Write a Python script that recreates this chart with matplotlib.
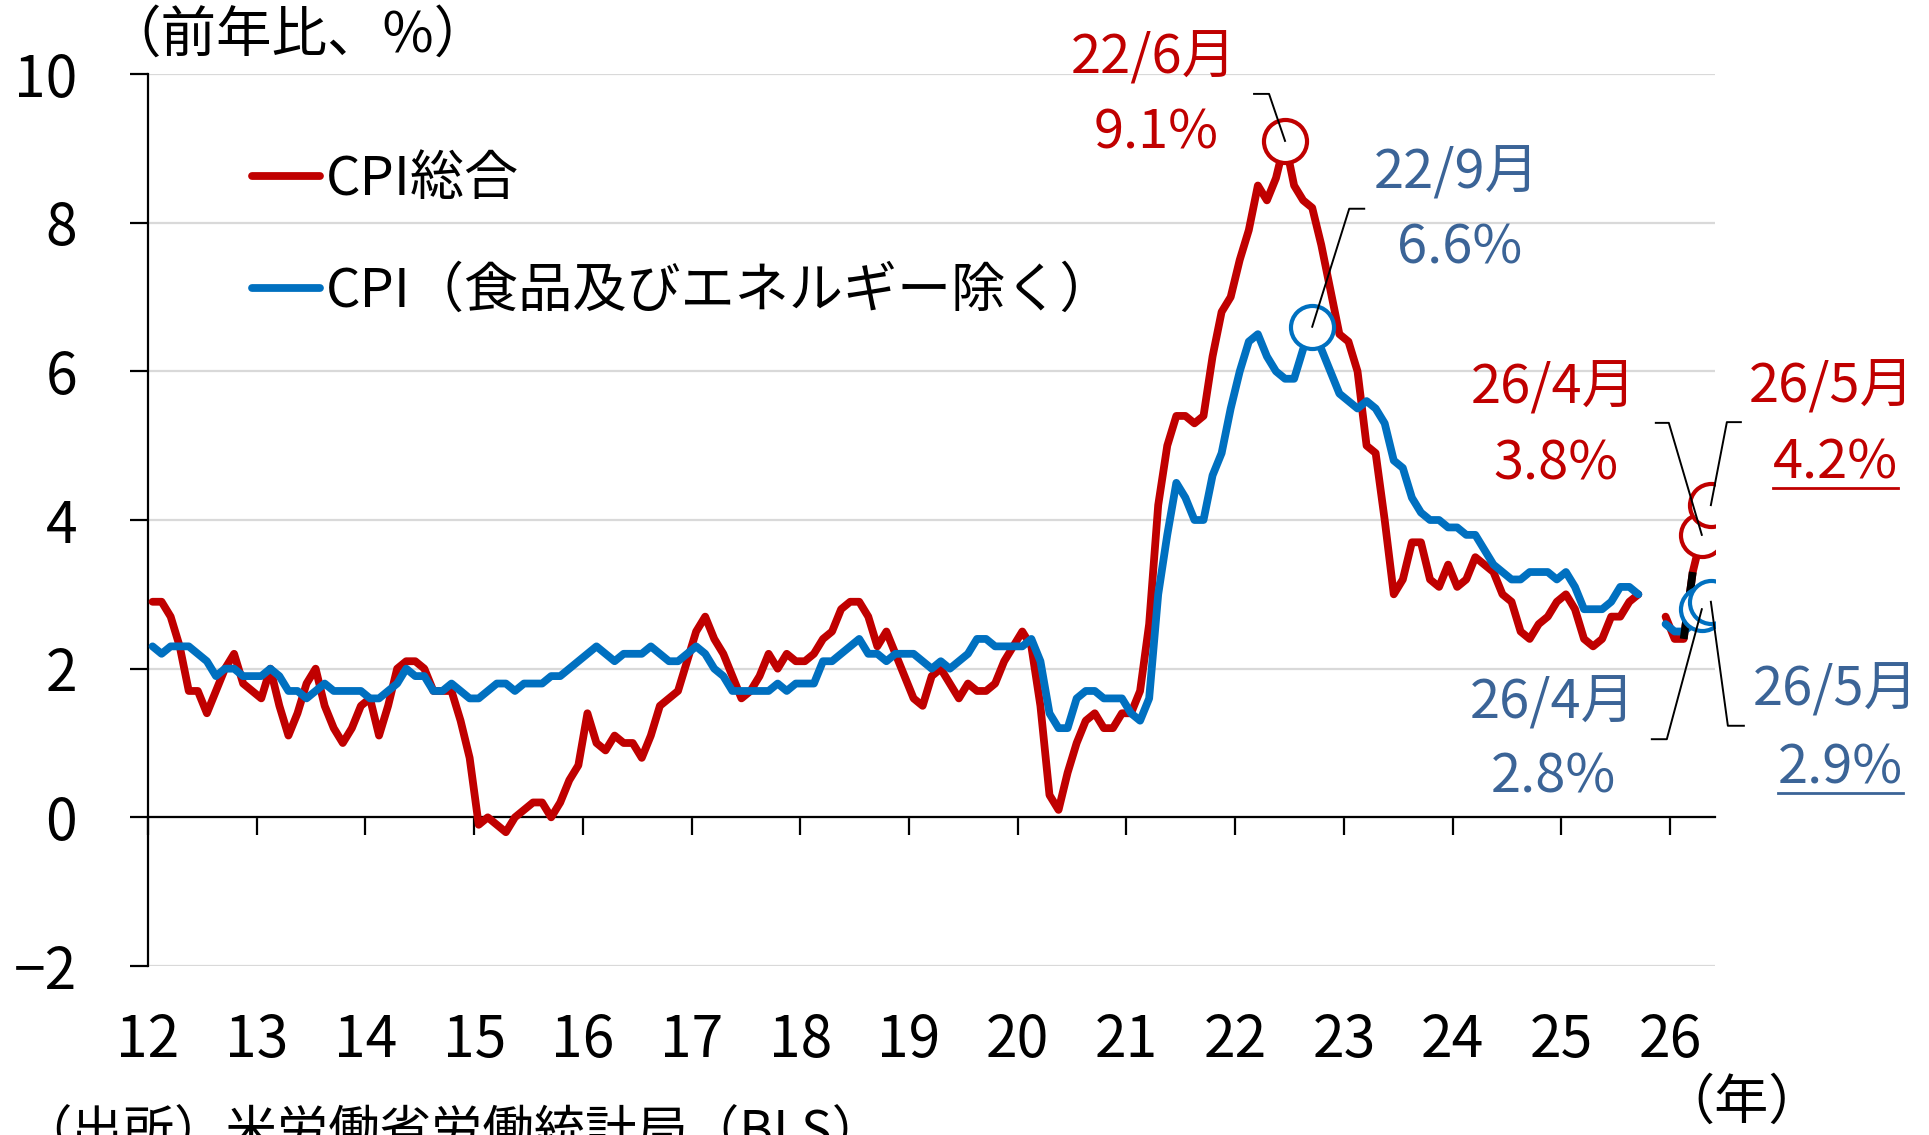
import numpy as np
import matplotlib.pyplot as plt

plt.rcParams['font.family'] = ['Noto Sans CJK JP', 'DejaVu Sans']

W, H = 1929, 1135
nan = np.nan

# US CPI, year-on-year % (monthly, 2012/1 - 2026/5); Oct-Nov 2025 not available
start_year = 2012
cpi_total = [
    2.9, 2.9, 2.7, 2.3, 1.7, 1.7, 1.4, 1.7, 2.0, 2.2, 1.8, 1.7,       # 2012
    1.6, 2.0, 1.5, 1.1, 1.4, 1.8, 2.0, 1.5, 1.2, 1.0, 1.2, 1.5,       # 2013
    1.6, 1.1, 1.5, 2.0, 2.1, 2.1, 2.0, 1.7, 1.7, 1.7, 1.3, 0.8,       # 2014
    -0.1, 0.0, -0.1, -0.2, 0.0, 0.1, 0.2, 0.2, 0.0, 0.2, 0.5, 0.7,    # 2015
    1.4, 1.0, 0.9, 1.1, 1.0, 1.0, 0.8, 1.1, 1.5, 1.6, 1.7, 2.1,       # 2016
    2.5, 2.7, 2.4, 2.2, 1.9, 1.6, 1.7, 1.9, 2.2, 2.0, 2.2, 2.1,       # 2017
    2.1, 2.2, 2.4, 2.5, 2.8, 2.9, 2.9, 2.7, 2.3, 2.5, 2.2, 1.9,       # 2018
    1.6, 1.5, 1.9, 2.0, 1.8, 1.6, 1.8, 1.7, 1.7, 1.8, 2.1, 2.3,       # 2019
    2.5, 2.3, 1.5, 0.3, 0.1, 0.6, 1.0, 1.3, 1.4, 1.2, 1.2, 1.4,       # 2020
    1.4, 1.7, 2.6, 4.2, 5.0, 5.4, 5.4, 5.3, 5.4, 6.2, 6.8, 7.0,       # 2021
    7.5, 7.9, 8.5, 8.3, 8.6, 9.1, 8.5, 8.3, 8.2, 7.7, 7.1, 6.5,       # 2022
    6.4, 6.0, 5.0, 4.9, 4.0, 3.0, 3.2, 3.7, 3.7, 3.2, 3.1, 3.4,       # 2023
    3.1, 3.2, 3.5, 3.4, 3.3, 3.0, 2.9, 2.5, 2.4, 2.6, 2.7, 2.9,       # 2024
    3.0, 2.8, 2.4, 2.3, 2.4, 2.7, 2.7, 2.9, 3.0, nan, nan, 2.7,       # 2025
    2.4, 2.4, 3.3, 3.8, 4.2,                                          # 2026
]
cpi_core = [
    2.3, 2.2, 2.3, 2.3, 2.3, 2.2, 2.1, 1.9, 2.0, 2.0, 1.9, 1.9,       # 2012
    1.9, 2.0, 1.9, 1.7, 1.7, 1.6, 1.7, 1.8, 1.7, 1.7, 1.7, 1.7,       # 2013
    1.6, 1.6, 1.7, 1.8, 2.0, 1.9, 1.9, 1.7, 1.7, 1.8, 1.7, 1.6,       # 2014
    1.6, 1.7, 1.8, 1.8, 1.7, 1.8, 1.8, 1.8, 1.9, 1.9, 2.0, 2.1,       # 2015
    2.2, 2.3, 2.2, 2.1, 2.2, 2.2, 2.2, 2.3, 2.2, 2.1, 2.1, 2.2,       # 2016
    2.3, 2.2, 2.0, 1.9, 1.7, 1.7, 1.7, 1.7, 1.7, 1.8, 1.7, 1.8,       # 2017
    1.8, 1.8, 2.1, 2.1, 2.2, 2.3, 2.4, 2.2, 2.2, 2.1, 2.2, 2.2,       # 2018
    2.2, 2.1, 2.0, 2.1, 2.0, 2.1, 2.2, 2.4, 2.4, 2.3, 2.3, 2.3,       # 2019
    2.3, 2.4, 2.1, 1.4, 1.2, 1.2, 1.6, 1.7, 1.7, 1.6, 1.6, 1.6,       # 2020
    1.4, 1.3, 1.6, 3.0, 3.8, 4.5, 4.3, 4.0, 4.0, 4.6, 4.9, 5.5,       # 2021
    6.0, 6.4, 6.5, 6.2, 6.0, 5.9, 5.9, 6.3, 6.6, 6.3, 6.0, 5.7,       # 2022
    5.6, 5.5, 5.6, 5.5, 5.3, 4.8, 4.7, 4.3, 4.1, 4.0, 4.0, 3.9,       # 2023
    3.9, 3.8, 3.8, 3.6, 3.4, 3.3, 3.2, 3.2, 3.3, 3.3, 3.3, 3.2,       # 2024
    3.3, 3.1, 2.8, 2.8, 2.8, 2.9, 3.1, 3.1, 3.0, nan, nan, 2.6,       # 2025
    2.5, 2.5, 2.6, 2.8, 2.9,                                          # 2026
]
year_ticks = list(range(12, 27))
series_labels = ['CPI総合', 'CPI（食品及びエネルギー除く）']

RED = '#C00000'
BLUE = '#0070C0'
BLUE_TXT = '#3B6497'
FS = 39


def month_index(year, month):
    return (year - start_year) * 12 + (month - 1)


total = np.array(cpi_total, dtype=float)
core = np.array(cpi_core, dtype=float)
xpos = 12 + (np.arange(len(total)) + 0.5) / 12

fig = plt.figure(figsize=(W / 100, H / 100), dpi=100)
ax = fig.add_axes([148 / W, (H - 966) / H, (1715.4 - 148) / W, 892 / H])
ax.set_xlim(12, 26 + 5 / 12)
ax.set_ylim(-2, 10)

ax.set_yticks(range(-2, 11, 2))
ax.grid(axis='y', color='#D9D9D9', lw=1.6)
ax.set_axisbelow(True)
for side in ('top', 'right'):
    ax.spines[side].set_visible(False)
ax.spines['left'].set_linewidth(1.6)
ax.spines['bottom'].set_position(('data', 0))
ax.spines['bottom'].set_linewidth(1.6)
ax.tick_params(axis='y', direction='out', length=13, width=1.6, pad=38, labelsize=41)
ax.set_xticks(year_ticks)
ax.tick_params(axis='x', direction='out', length=13, width=1.6, labelbottom=False)

sec = ax.secondary_xaxis('bottom')
sec.set_xticks(year_ticks, labels=[str(y) for y in year_ticks])
sec.tick_params(length=0, pad=33, labelsize=41)
sec.spines['bottom'].set_visible(False)

line_total, = ax.plot(xpos, total, color=RED, lw=5.6, solid_capstyle='round',
                      solid_joinstyle='round', label=series_labels[0], zorder=3)
line_core, = ax.plot(xpos, core, color=BLUE, lw=5.6, solid_capstyle='round',
                     solid_joinstyle='round', label=series_labels[1], zorder=3.1)

# Feb -> Mar 2026 segment of the total line is drawn in black in the original
i0, i1 = month_index(2026, 2), month_index(2026, 3)
ax.plot(xpos[i0:i1 + 1], total[i0:i1 + 1], color='black', lw=5.6, solid_capstyle='butt', zorder=3.2)

ax.legend(handles=[line_total, line_core], loc='upper left',
          bbox_to_anchor=(252 / W, 1 - 152 / H), bbox_transform=fig.transFigure,
          frameon=False, fontsize=39, handlelength=1.25, handletextpad=0.12,
          labelspacing=1.05, borderpad=0, borderaxespad=0)

# highlighted points: (series, year, month, colour, text colour,
#  line1 offset, line2 offset, elbow offset, tail offset, underline) in pixels
callouts = [
    (total, 2022, 6, RED, RED, (-131, 83), (-129, 8), (-16, 47), (-31, 47), False),
    (core, 2022, 9, BLUE, BLUE_TXT, (144, 154), (147, 79), (37, 118), (52, 118), False),
    (total, 2026, 4, RED, RED, (-148, 147), (-146, 71), (-33, 112), (-46, 112), False),
    (total, 2026, 5, RED, RED, (121, 118), (125, 42), (16, 83), (30, 83), True),
    (core, 2026, 4, BLUE, BLUE_TXT, (-149, -94), (-148, -168), (-35, -130), (-50, -130), False),
    (core, 2026, 5, BLUE, BLUE_TXT, (125, -88), (130, -166), (17, -124), (33, -124), True),
]

underlined = []
for ser, yr, mo, col, tcol, off1, off2, elbow, tail, uline in callouts:
    i = month_index(yr, mo)
    xv, yv = xpos[i], ser[i]
    ax.plot([xv], [yv], 'o', ms=31, mfc='white', mec=col, mew=3.0, zorder=5)
    px, py = ax.transData.transform((xv, yv))
    pts = ax.transData.inverted().transform(
        [(px, py), (px + elbow[0], py + elbow[1]), (px + tail[0], py + tail[1])])
    ax.plot(pts[:, 0], pts[:, 1], color='black', lw=1.4, zorder=6, clip_on=False)
    ax.annotate(f'{yr % 100}/{mo}月', (xv, yv), xytext=off1, textcoords='offset pixels',
                ha='center', va='center', color=tcol, fontsize=FS, annotation_clip=False)
    t2 = ax.annotate(f'{yv:.1f}%', (xv, yv), xytext=off2, textcoords='offset pixels',
                     ha='center', va='center', color=tcol, fontsize=FS, annotation_clip=False)
    if uline:
        underlined.append((t2, py + off2[1] - 25, tcol))

fig.canvas.draw()
for t, uy, col in underlined:
    bb = t.get_window_extent()
    pts = ax.transData.inverted().transform([(bb.x0, uy), (bb.x1, uy)])
    ax.plot(pts[:, 0], pts[:, 1], color=col, lw=2.0, clip_on=False)

fig.text(297 / W, 1 - 36 / H, '（前年比、%）', ha='center', va='center', fontsize=40)
fig.text(1742 / W, 1 - 1103 / H, '（年）', ha='center', va='center', fontsize=39)
fig.text(452 / W, 1 - 1133 / H, '（出所）米労働省労働統計局（BLS）', ha='center', va='center', fontsize=37)

fig.savefig('out.png', dpi=100)
